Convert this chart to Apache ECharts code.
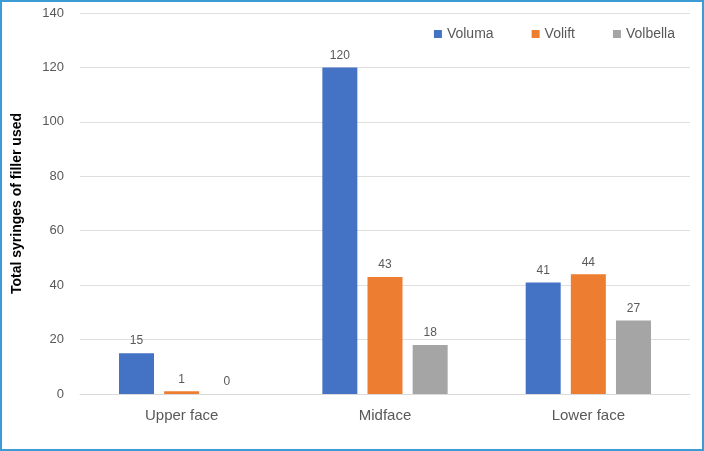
<!DOCTYPE html>
<html>
<head>
<meta charset="utf-8">
<script src="https://cdn.jsdelivr.net/npm/echarts@6/dist/echarts.min.js"></script>
<style>
    html, body { margin: 0; padding: 0; background: #fff; }
    #chart {
        width: 704px;
        height: 451px;
        box-sizing: border-box;
        border: 2px solid #3d9bd6;
    }
</style>
</head>
<body>
<div id="chart"></div>
<script>
var categories = ['Upper face', 'Midface', 'Lower face'];
var voluma = [15, 120, 41];
var volift = [1, 43, 44];
var volbella = [0, 18, 27];

function makeSeries(name, data, color) {
    return {
        name: name,
        type: 'bar',
        data: data,
        barWidth: 35,
        barGap: '29%',
        itemStyle: { color: color },
        label: {
            show: true,
            position: 'top',
            distance: 6,
            color: '#595959',
            fontSize: 12,
            fontFamily: 'Liberation Sans'
        }
    };
}

function pageInit() {
    var myChart = echarts.init(document.getElementById('chart'));
    var option = {
        animation: false,
        textStyle: { fontFamily: 'Liberation Sans' },
        grid: { left: 78, right: 12, top: 11, bottom: 55 },
        legend: {
            top: 20,
            right: 22,
            itemWidth: 8,
            itemHeight: 8,
            itemGap: 38,
            icon: 'rect',
            textStyle: { color: '#595959', fontSize: 14 },
            data: ['Voluma', 'Volift', 'Volbella']
        },
        xAxis: {
            type: 'category',
            data: categories,
            axisLine: { lineStyle: { color: '#d9d9d9' } },
            axisTick: { show: false },
            axisLabel: { color: '#595959', fontSize: 15, margin: 14 }
        },
        yAxis: {
            type: 'value',
            min: 0,
            max: 140,
            interval: 20,
            name: 'Total syringes of filler used',
            nameLocation: 'middle',
            nameGap: 56,
            nameTextStyle: { color: '#000', fontSize: 14, fontWeight: 'bold' },
            axisLine: { show: false },
            axisTick: { show: false },
            axisLabel: { color: '#595959', fontSize: 13, margin: 16 },
            splitLine: { lineStyle: { color: '#e3dede' } }
        },
        series: [
            makeSeries('Voluma', voluma, '#4472C4'),
            makeSeries('Volift', volift, '#ED7D31'),
            makeSeries('Volbella', volbella, '#A5A5A5')
        ]
    };
    myChart.setOption(option);
}

window.onload = function () {
    pageInit();
};
</script>
</body>
</html>
